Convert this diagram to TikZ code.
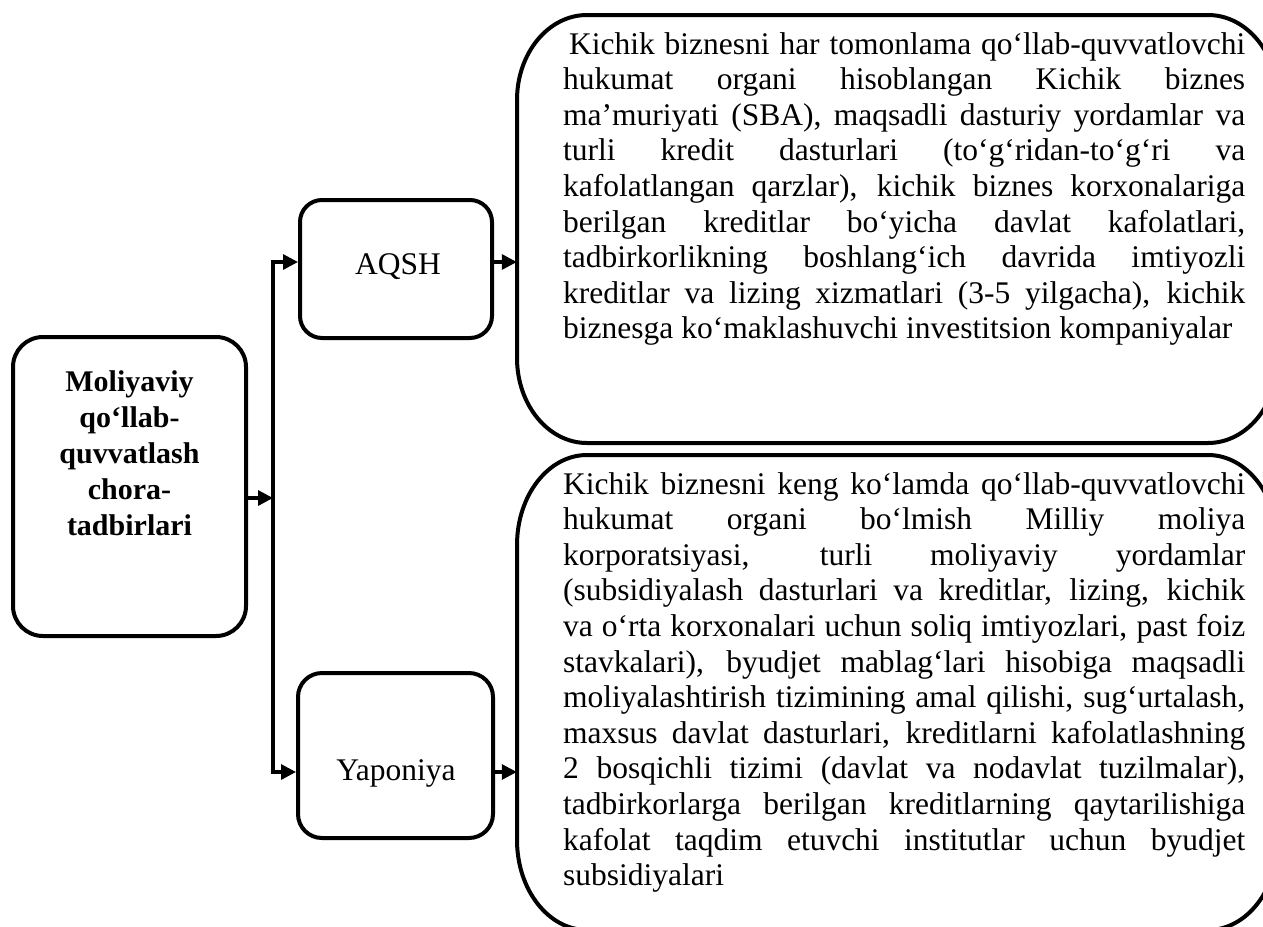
\documentclass[tikz,border=0pt]{standalone}
\usepackage{fontspec}
\setmainfont{Liberation Serif}
\usetikzlibrary{arrows.meta}
% #1 x1, #2 y1, #3 x2, #4 y2, #5 rx, #6 ry
\newcommand\myovalbox[6]{%
 \draw[boxline] (#1+#5,#2) -- (#3-#5,#2)
   .. controls (#3-0.448*#5,#2) and (#3,#2+0.448*#6) .. (#3,#2+#6)
   -- (#3,#4-#6)
   .. controls (#3,#4-0.448*#6) and (#3-0.448*#5,#4) .. (#3-#5,#4)
   -- (#1+#5,#4)
   .. controls (#1+0.448*#5,#4) and (#1,#4-0.448*#6) .. (#1,#4-#6)
   -- (#1,#2+#6)
   .. controls (#1,#2+0.448*#6) and (#1+0.448*#5,#2) .. (#1+#5,#2) -- cycle;}
\newcommand\bodysetup{\fontsize{31.5}{35.6}\selectfont\hyphenpenalty=10000 \exhyphenpenalty=10000 \tolerance=10000 \pretolerance=-1 \parindent=0pt}
\begin{document}
\begin{tikzpicture}[x=1pt,y=-1pt,
  boxline/.style={line width=4pt},
  sbox/.style={draw, line width=4pt, inner sep=0pt},
  arr/.style={line width=3.2pt, -{Triangle[length=15pt,width=15pt]}},
  txt/.style={font=\fontsize{31.5}{35.6}\selectfont, inner sep=0pt}]
\useasboundingbox (0,0) rectangle (1263,926);
\clip (0,0) rectangle (1263,926);

% left box
\node[sbox, rounded corners=30pt, minimum width=233pt, minimum height=299pt] (main) at (129.5,486.5) {};
\node[txt, font=\fontsize{30}{36}\selectfont\bfseries, align=center, anchor=north] (mainlabel) at (129.5,370)
  {Moliyaviy\\qo‘llab-\\quvvatlash\\chora-\\tadbirlari};

% middle boxes
\node[sbox, rounded corners=22pt, minimum width=192pt, minimum height=138pt] (aqsh) at (396,269) {};
\node[txt] (aqshlabel) at (398,267) {AQSH};
\node[sbox, rounded corners=24pt, minimum width=195pt, minimum height=165pt] (yap) at (395.5,755.5) {};
\node[txt] (yaplabel) at (396,773) {Yaponiya};

% big boxes
\node[minimum width=761pt, minimum height=428pt, inner sep=0pt] (topbox) at (897.5,229) {};
\myovalbox{517}{15}{1278}{443}{70}{85}
\node[minimum width=761pt, minimum height=475pt, inner sep=0pt] (botbox) at (897.5,692.5) {};
\myovalbox{517}{455}{1278}{930}{70}{90}

\node[inner sep=0pt, anchor=north west] (toptext) at (563,32) {\parbox{682pt}{\bodysetup
\hspace*{6pt}Kichik biznesni har tomonlama qo‘llab-quvvatlovchi\linebreak
hukumat organi hisoblangan Kichik biznes\linebreak
ma’muriyati (SBA), maqsadli dasturiy yordamlar va\linebreak
turli kredit dasturlari (to‘g‘ridan-to‘g‘ri va\linebreak
kafolatlangan qarzlar), kichik biznes korxonalariga\linebreak
berilgan kreditlar bo‘yicha davlat kafolatlari,\linebreak
tadbirkorlikning boshlang‘ich davrida imtiyozli\linebreak
kreditlar va lizing xizmatlari (3-5 yilgacha), kichik\linebreak
biznesga ko‘maklashuvchi investitsion kompaniyalar}};

\node[inner sep=0pt, anchor=north west] (bottext) at (563,472) {\parbox{682pt}{\bodysetup
Kichik biznesni keng ko‘lamda qo‘llab-quvvatlovchi\linebreak
hukumat organi bo‘lmish Milliy moliya\linebreak
korporatsiyasi, turli moliyaviy yordamlar\linebreak
(subsidiyalash dasturlari va kreditlar, lizing, kichik\linebreak
va o‘rta korxonalari uchun soliq imtiyozlari, past foiz\linebreak
stavkalari), byudjet mablag‘lari hisobiga maqsadli\linebreak
moliyalashtirish tizimining amal qilishi, sug‘urtalash,\linebreak
maxsus davlat dasturlari, kreditlarni kafolatlashning\linebreak
2 bosqichli tizimi (davlat va nodavlat tuzilmalar),\linebreak
tadbirkorlarga berilgan kreditlarning qaytarilishiga\linebreak
kafolat taqdim etuvchi institutlar uchun byudjet\linebreak
subsidiyalari}};

% connectors
\coordinate (j1) at (273,262);
\coordinate (j2) at (273,772);
\coordinate (jm) at (273,498);
\draw[arr] (j2) -- (j1) -- (j1 -| aqsh.west);
\draw[arr] (j1) -- (j2) -- (j2 -| yap.west);
\draw[arr] (main.east |- jm) -- (jm);
\draw[arr] (aqsh.east |- j1) -- (j1 -| topbox.west);
\draw[arr] (yap.east |- j2) -- (j2 -| botbox.west);
\end{tikzpicture}
\end{document}
